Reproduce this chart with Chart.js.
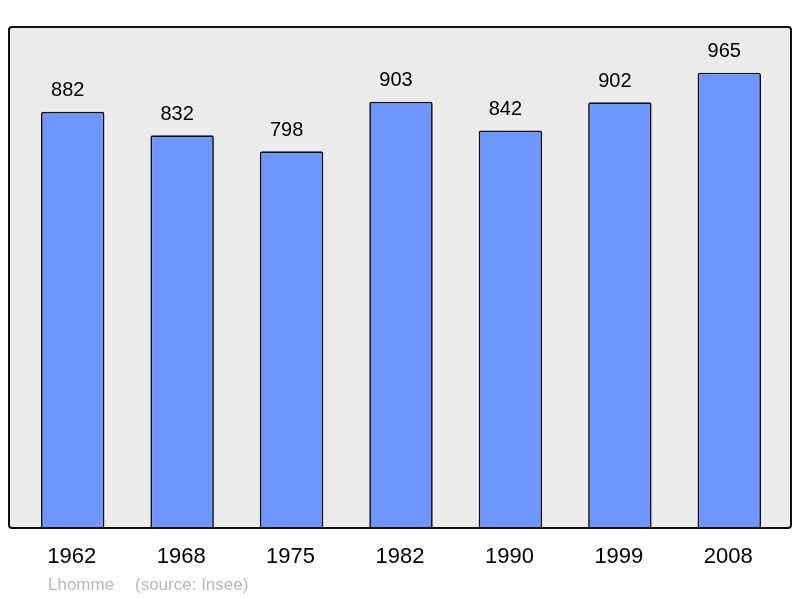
<!DOCTYPE html>
<html lang="fr">
<head>
    <meta charset="UTF-8">
    <title>Population Lhomme</title>
    <script src="https://cdn.jsdelivr.net/npm/chart.js"></script>
    <style>
        body { margin: 0; background: #fff; }
        canvas { display: block; }
    </style>
</head>
<body>
    <canvas id="popChart" width="800" height="598"></canvas>

    <script>
        const years = ['1962', '1968', '1975', '1982', '1990', '1999', '2008'];
        const population = [882, 832, 798, 903, 842, 902, 965];
        const footerName = 'Lhomme';
        const footerSource = '(source: Insee)';

        // grey frame behind the bars, value labels, year labels and footer
        const decor = {
            id: 'decor',
            beforeDraw(chart) {
                const { ctx, chartArea: a } = chart;
                const x0 = a.left - 9, x1 = a.right + 7, y0 = a.top, y1 = a.bottom + 1;
                ctx.save();
                ctx.beginPath();
                ctx.roundRect(x0, y0, x1 - x0, y1 - y0, 3);
                ctx.fillStyle = '#ebebeb';
                ctx.fill();
                ctx.restore();
            },
            afterDatasetsDraw(chart) {
                const { ctx, chartArea: a } = chart;
                const x0 = a.left - 9, x1 = a.right + 7, y0 = a.top, y1 = a.bottom + 1;
                ctx.save();
                ctx.beginPath();
                ctx.roundRect(x0, y0, x1 - x0, y1 - y0, 3);
                ctx.lineWidth = 2;
                ctx.strokeStyle = '#111';
                ctx.stroke();

                const meta = chart.getDatasetMeta(0);
                ctx.fillStyle = '#000';
                ctx.textAlign = 'center';
                ctx.textBaseline = 'middle';
                ctx.font = '20px "Liberation Sans", Arial, sans-serif';
                meta.data.forEach((bar, i) => {
                    ctx.fillText(String(population[i]), bar.x - 5, bar.y - 21);
                });

                ctx.font = '22px "Liberation Sans", Arial, sans-serif';
                meta.data.forEach((bar, i) => {
                    ctx.fillText(years[i], bar.x - 1, a.bottom + 30);
                });

                ctx.textAlign = 'left';
                ctx.fillStyle = '#b8b8b8';
                ctx.font = '17px "Liberation Sans", Arial, sans-serif';
                ctx.fillText(footerName, 48, 585);
                ctx.fillText(footerSource, 135, 585);
                ctx.restore();
            }
        };

        const ctx = document.getElementById('popChart').getContext('2d');
        new Chart(ctx, {
            type: 'bar',
            data: {
                labels: years,
                datasets: [{
                    data: population,
                    backgroundColor: '#6f96ff',
                    borderColor: '#111',
                    borderWidth: 1.7,
                    borderRadius: 2,
                    borderSkipped: 'bottom',
                    categoryPercentage: 1,
                    barPercentage: 0.58
                }]
            },
            options: {
                responsive: false,
                animation: false,
                layout: {
                    padding: { left: 18, right: 16, top: 27, bottom: 71 }
                },
                plugins: {
                    legend: { display: false },
                    tooltip: { enabled: false }
                },
                scales: {
                    x: { display: false },
                    y: { display: false, min: 0, max: 1062 }
                }
            },
            plugins: [decor]
        });
    </script>
</body>
</html>
